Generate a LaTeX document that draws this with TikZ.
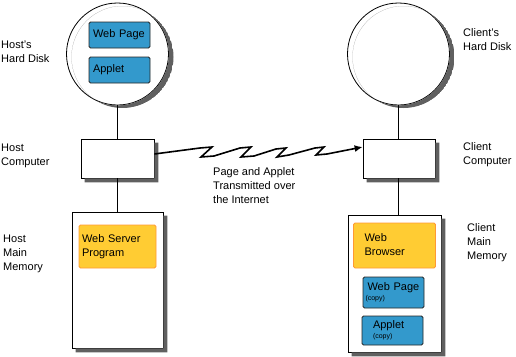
\documentclass[tikz,border=0pt]{standalone}
\usepackage{fontspec}
\setmainfont{Liberation Sans}
\usetikzlibrary{arrows.meta}
\definecolor{fileblue}{HTML}{3399CC}
\definecolor{progyellow}{HTML}{FFCC33}
\definecolor{progedge}{HTML}{FF9933}
\definecolor{shadowgray}{HTML}{606060}
\tikzset{
  side text/.style={align=left, anchor=west, inner sep=0pt, font=\fontsize{11}{14}\selectfont},
  disk/.style={circle, draw, fill=white, line width=0.8pt, minimum size=102pt, inner sep=0pt},
  machine/.style={draw, fill=white, line width=0.8pt, inner sep=0pt},
  filebox/.style={draw=black!85, fill=fileblue, line width=0.8pt, rounded corners=1.5pt,
    minimum width=61pt, minimum height=26pt, text width=53pt, inner xsep=4pt, inner ysep=0pt,
    align=left, font=\fontsize{11}{13}\selectfont},
  progbox/.style={draw=progedge, fill=progyellow, line width=0.8pt, rounded corners=1.5pt,
    minimum width=77pt, inner ysep=0pt, align=left, font=\fontsize{11}{14}\selectfont},
  host wire/.style={line width=1.8pt},
  client wire/.style={line width=0.8pt},
}
\newcommand{\copytag}{{\fontsize{7}{7}\selectfont (copy)}}

\begin{document}
\begin{tikzpicture}[x=1pt, y=-1pt]
\useasboundingbox (0,0) rectangle (516,356);
% Host side
\node[disk] (hostdisk) at (117.5,54) {};
\node[filebox] (hostpage) at (119.5,35) {Web Page};
\node[filebox] (hostapplet) at (119.5,70) {Applet};
\node[machine, minimum width=73pt, minimum height=39pt] (hostpc) at (117.5,158.5) {};
\node[machine, minimum width=91pt, minimum height=136pt] (hostmem) at (117.5,280) {};
\node[progbox, minimum height=43pt, text width=71pt, inner xsep=3pt] (server) at (117.5,246.5)
  {Web Server\\Program};
% Client side
\node[disk] (clientdisk) at (398.5,54) {};
\node[machine, minimum width=72pt, minimum height=39pt] (clientpc) at (399,158.5) {};
\node[machine, minimum width=93pt, minimum height=137pt] (clientmem) at (394.5,283.5) {};
\node[progbox, minimum height=45pt, text width=60pt, inner xsep=11pt] (browser) at (394.5,245.5)
  {Web\\Browser\vphantom{g}\\[4pt]};
\node[filebox, minimum height=31pt, inner xsep=2.5pt, text width=56pt] (clientpage) at (393.5,292.5)
  {\hspace*{2pt}Web Page\\[-3pt]\copytag};
\node[filebox, minimum height=29pt, inner xsep=11pt, text width=39pt] (clientapplet) at (392.5,330.5)
  {Applet\\[-3pt]\copytag};
% Shadows: crescent behind the disks, L-strip behind the boxes
\foreach \d in {hostdisk, clientdisk} {
  \begin{scope}
    \clip ([xshift=5pt, yshift=-3pt]\d.center) circle (51);
    \fill[shadowgray, even odd rule] ([xshift=5pt, yshift=-3pt]\d.center) circle (51) (\d.center) circle (51.4);
  \end{scope}
}
\foreach \b in {hostpc, hostmem, clientpc, clientmem}
  \fill[shadowgray] ([yshift=-4pt]\b.north east) -- ([xshift=4pt, yshift=-4pt]\b.north east)
    -- ([xshift=4pt, yshift=-4pt]\b.south east) -- ([xshift=4pt, yshift=-4pt]\b.south west)
    -- ([xshift=4pt]\b.south west) -- (\b.south east) -- cycle;
% Wires
\draw[host wire] (hostdisk.south) -- (hostpc.north);
\draw[host wire] (hostpc.south) -- (hostmem.north);
\draw[client wire] (clientdisk.south) -- (clientdisk.south |- clientpc.north);
\draw[client wire] (clientdisk.south |- clientpc.south) -- (clientdisk.south |- clientmem.north);
% Transmission over the Internet
\draw[line width=1.6pt, line join=miter, -{Latex[length=8pt,width=7pt]}]
  ([yshift=4.5pt]hostpc.east) -- (200,148) -- (212,147) -- (201,157) -- (214,156)
  -- (240,148) -- (251,147) -- (241,157) -- (254,156)
  -- (276,149) -- (286,148) -- (277,157) -- (289,155)
  -- (315,148) -- (324,147) -- (316,155) -- (327,154)
  -- ([yshift=11.5pt]clientpc.west);
\node[side text] (internet) at (213,186) {Page and Applet\\Transmitted over\\the Internet};
% Side labels
\node[side text] (hostdisklabel) at (1,52) {Host's\\Hard Disk};
\node[side text] (hostpclabel) at (1,156) {Host\\Computer};
\node[side text] (hostmemlabel) at (3,254) {Host\\Main\\Memory};
\node[side text] (clientdisklabel) at (463,40) {Client's\\Hard Disk};
\node[side text] (clientpclabel) at (463,155) {Client\\Computer};
\node[side text] (clientmemlabel) at (467,243) {Client\\Main\\Memory};
\end{tikzpicture}
\end{document}
